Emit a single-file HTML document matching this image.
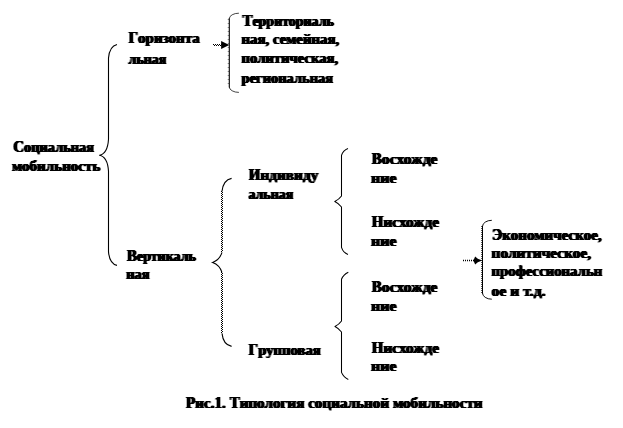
<!DOCTYPE html>
<html lang="ru"><head><meta charset="utf-8"><title>Типология социальной мобильности</title>
<style>
html,body{margin:0;padding:0;background:#fff;}
svg{display:block;will-change:transform;}
text{font-family:"Liberation Serif",serif;font-weight:bold;font-size:13.8px;fill:#000;stroke:#000;stroke-width:0px;stroke-linejoin:round;}
</style></head><body>
<svg width="623" height="428" viewBox="0 0 623 428">
<defs><filter id="hv" x="-5%" y="-20%" width="110%" height="140%" color-interpolation-filters="sRGB"><feConvolveMatrix order="3 1" kernelMatrix="0.6 1 0.6" divisor="1" edgeMode="none" preserveAlpha="false"/></filter></defs>
<rect width="623" height="428" fill="#fff"/>
<path d="M117,44.5 Q109.56,46.19 108.5,58.0 L108.5,139.2 Q107.60,153.60 99.5,155.2 Q107.60,156.80 108.5,171.2 L108.5,251.89999999999998 Q109.56,263.71 117,265.4" fill="none" stroke="#000" stroke-width="1.1" stroke-linejoin="round"/>
<path d="M231.6,178.4 Q223.20,180.03 222,191.4" fill="none" stroke="#000" stroke-width="1.1"/><path d="M222,252.39999999999998 Q219.65,259.90 212.6,262.4 Q219.65,264.90 222,272.4" fill="none" stroke="#000" stroke-width="1.1"/><path d="M222,333.4 Q223.20,344.77 231.6,346.4" fill="none" stroke="#000" stroke-width="1.1"/><path d="M221.5,191 L221.5,252" fill="none" stroke="#000" stroke-width="1" stroke-dasharray="1 1"/><path d="M222.5,192 L222.5,252" fill="none" stroke="#000" stroke-width="1" stroke-dasharray="1 1"/><path d="M221.5,272 L221.5,333" fill="none" stroke="#000" stroke-width="1" stroke-dasharray="1 1"/><path d="M222.5,273 L222.5,333" fill="none" stroke="#000" stroke-width="1" stroke-dasharray="1 1"/>
<path d="M348,148.4 Q343.12,150.15 341.5,155.4 L341.5,196.0 Q338.99,199.44 334.8,201.5 Q338.99,203.56 341.5,207.0 L341.5,247.4 Q343.12,252.65 348,254.4" fill="none" stroke="#000" stroke-width="1.05" stroke-linejoin="round"/>
<path d="M348.3,272.3 Q343.54,274.40 341.5,279.3 L341.5,321.0 Q339.06,324.44 335,326.5 Q339.06,328.56 341.5,332.0 L341.5,372.4 Q343.54,377.30 348.3,379.4" fill="none" stroke="#000" stroke-width="1.05" stroke-linejoin="round"/>
<path d="M238.9,13.2 A9.599999999999994,5.5 0 0 0 229.3,18.7" fill="none" stroke="#444" stroke-width="1"/><path d="M238.9,92.4 A9.599999999999994,5.5 0 0 1 229.3,86.9" fill="none" stroke="#444" stroke-width="1"/><path d="M229.3,18.2 L229.3,87.4" fill="none" stroke="#000" stroke-width="1.1"/><path d="M228.3,19 L228.3,87" fill="none" stroke="#555" stroke-width="1" stroke-dasharray="1 3"/>
<path d="M213,44.5 L222,44.5" fill="none" stroke="#000" stroke-width="1" stroke-dasharray="1 1"/><path d="M214,45.5 L222,45.5" fill="none" stroke="#000" stroke-width="1" stroke-dasharray="1 1"/><path d="M229.3,45 L221.10000000000002,41 L221.10000000000002,49 Z" fill="#000"/>
<path d="M491.8,220.3 A9.300000000000011,6.2 0 0 0 482.5,226.5" fill="none" stroke="#111" stroke-width="1"/><path d="M491.8,299.2 A9.300000000000011,6.2 0 0 1 482.5,293.0" fill="none" stroke="#111" stroke-width="1"/><path d="M482.5,226.0 L482.5,293.5" fill="none" stroke="#000" stroke-width="1.05"/><path d="M481.5,226 L481.5,293" fill="none" stroke="#555" stroke-width="1" stroke-dasharray="1 1"/>
<path d="M463,260.5 L474.4,260.5" fill="none" stroke="#000" stroke-width="1.3" stroke-dasharray="1 1"/><path d="M482.2,260.5 L477.80,258.70 L475.16,256.50 L473.4,260.5 L475.16,264.50 L477.80,262.30 Z" fill="#000"/>
<g filter="url(#hv)">
<text x="13.2" y="151.8" xml:space="preserve"><tspan font-size="16px" textLength="10.87" lengthAdjust="spacingAndGlyphs">С</tspan><tspan textLength="70.03" lengthAdjust="spacingAndGlyphs">оциальная</tspan></text>
<text x="12" y="170.7" xml:space="preserve"><tspan textLength="88.40" lengthAdjust="spacingAndGlyphs">мобильность</tspan></text>
<text x="128.4" y="42.7" xml:space="preserve"><tspan font-size="16px" textLength="9.58" lengthAdjust="spacingAndGlyphs">Г</tspan><tspan textLength="61.92" lengthAdjust="spacingAndGlyphs">оризонта</tspan></text>
<text x="128.6" y="63.5" xml:space="preserve"><tspan textLength="37.80" lengthAdjust="spacingAndGlyphs">льная</tspan></text>
<text x="242.4" y="26" xml:space="preserve"><tspan font-size="16px" textLength="10.03" lengthAdjust="spacingAndGlyphs">Т</tspan><tspan textLength="81.47" lengthAdjust="spacingAndGlyphs">ерриториаль</tspan></text>
<text x="241.6" y="43.8" xml:space="preserve"><tspan textLength="97.50" lengthAdjust="spacingAndGlyphs">ная, семейная,</tspan></text>
<text x="241.6" y="63" xml:space="preserve"><tspan textLength="96.50" lengthAdjust="spacingAndGlyphs">политическая,</tspan></text>
<text x="241.6" y="83" xml:space="preserve"><tspan textLength="91.50" lengthAdjust="spacingAndGlyphs">региональная</tspan></text>
<text x="126.9" y="261" xml:space="preserve"><tspan font-size="16px" textLength="10.03" lengthAdjust="spacingAndGlyphs">В</tspan><tspan textLength="58.97" lengthAdjust="spacingAndGlyphs">ертикаль</tspan></text>
<text x="126.2" y="279" xml:space="preserve"><tspan textLength="23.40" lengthAdjust="spacingAndGlyphs">ная</tspan></text>
<text x="248.8" y="179.9" xml:space="preserve"><tspan font-size="16px" textLength="11.71" lengthAdjust="spacingAndGlyphs">И</tspan><tspan textLength="57.79" lengthAdjust="spacingAndGlyphs">ндивиду</tspan></text>
<text x="248.4" y="198.8" xml:space="preserve"><tspan textLength="44.80" lengthAdjust="spacingAndGlyphs">альная</tspan></text>
<text x="371.8" y="164.4" xml:space="preserve"><tspan font-size="16px" textLength="10.03" lengthAdjust="spacingAndGlyphs">В</tspan><tspan textLength="55.77" lengthAdjust="spacingAndGlyphs">осхожде</tspan></text>
<text x="371" y="183" xml:space="preserve"><tspan textLength="25.60" lengthAdjust="spacingAndGlyphs">ние</tspan></text>
<text x="371.8" y="226.6" xml:space="preserve"><tspan font-size="16px" textLength="11.71" lengthAdjust="spacingAndGlyphs">Н</tspan><tspan textLength="55.59" lengthAdjust="spacingAndGlyphs">исхожде</tspan></text>
<text x="371" y="246" xml:space="preserve"><tspan textLength="25.60" lengthAdjust="spacingAndGlyphs">ние</tspan></text>
<text x="371.8" y="292.4" xml:space="preserve"><tspan font-size="16px" textLength="10.03" lengthAdjust="spacingAndGlyphs">В</tspan><tspan textLength="55.77" lengthAdjust="spacingAndGlyphs">осхожде</tspan></text>
<text x="371" y="310.7" xml:space="preserve"><tspan textLength="25.60" lengthAdjust="spacingAndGlyphs">ние</tspan></text>
<text x="371.8" y="352.6" xml:space="preserve"><tspan font-size="16px" textLength="11.71" lengthAdjust="spacingAndGlyphs">Н</tspan><tspan textLength="55.59" lengthAdjust="spacingAndGlyphs">исхожде</tspan></text>
<text x="371" y="371" xml:space="preserve"><tspan textLength="25.60" lengthAdjust="spacingAndGlyphs">ние</tspan></text>
<text x="248.6" y="354.6" xml:space="preserve"><tspan font-size="16px" textLength="9.58" lengthAdjust="spacingAndGlyphs">Г</tspan><tspan textLength="62.62" lengthAdjust="spacingAndGlyphs">рупповая</tspan></text>
<text x="492" y="239.6" xml:space="preserve"><tspan font-size="16px" textLength="10.21" lengthAdjust="spacingAndGlyphs">Э</tspan><tspan textLength="99.59" lengthAdjust="spacingAndGlyphs">кономическое,</tspan></text>
<text x="491.6" y="258" xml:space="preserve"><tspan textLength="99.50" lengthAdjust="spacingAndGlyphs">политическое,</tspan></text>
<text x="491.6" y="276.2" xml:space="preserve"><tspan textLength="110.60" lengthAdjust="spacingAndGlyphs">профессиональн</tspan></text>
<text x="491.6" y="295.6" xml:space="preserve"><tspan textLength="54.00" lengthAdjust="spacingAndGlyphs">ое и т.д.</tspan></text>
<text x="186.1" y="408" xml:space="preserve"><tspan font-size="16px" textLength="9.19" lengthAdjust="spacingAndGlyphs">Р</tspan><tspan textLength="19.24" lengthAdjust="spacingAndGlyphs">ис.</tspan><tspan font-size="16px" textLength="7.52" lengthAdjust="spacingAndGlyphs">1</tspan><tspan textLength="7.58" lengthAdjust="spacingAndGlyphs">. </tspan><tspan font-size="16px" textLength="10.03" lengthAdjust="spacingAndGlyphs">Т</tspan><tspan textLength="242.93" lengthAdjust="spacingAndGlyphs">ипология социальной мобильности</tspan></text>
</g>
</svg>
</body></html>
